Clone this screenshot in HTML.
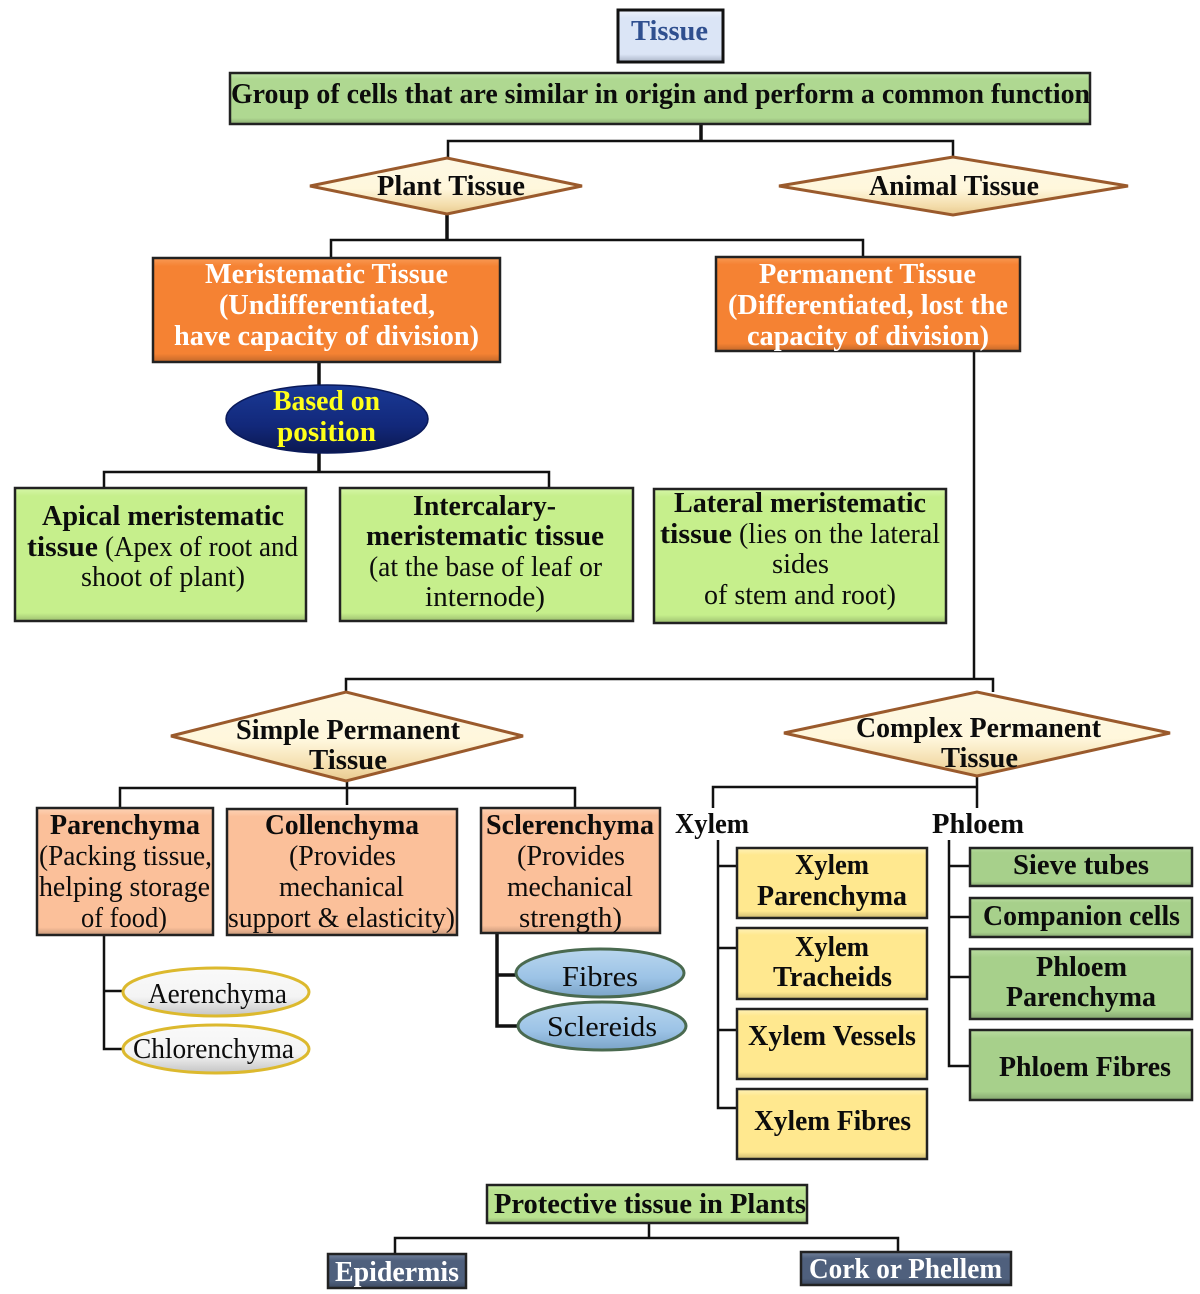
<!DOCTYPE html>
<html><head><meta charset="utf-8"><style>
html,body{margin:0;padding:0;background:#fff}
svg{display:block;filter:blur(.35px)}
text{font-family:"Liberation Serif","DejaVu Serif",serif;font-size:28px;fill:#0c0c0c}
.b{font-weight:bold}
.w{fill:#fff}.y{fill:#ffff1a}
.l{stroke:#111;stroke-width:2.5;fill:none}
.t{stroke:#111;stroke-width:3.5;fill:none}
.r{stroke:#222;stroke-width:2.5}
</style></head><body>
<svg width="1200" height="1294" viewBox="0 0 1200 1294" xmlns="http://www.w3.org/2000/svg" lengthAdjust="spacingAndGlyphs">
<defs>
<linearGradient id="gT" x1="0" y1="0" x2="0" y2="1"><stop offset="0" stop-color="#eef3fb"/><stop offset=".15" stop-color="#dbe5f6"/><stop offset=".85" stop-color="#dbe5f6"/><stop offset="1" stop-color="#aab4c6"/></linearGradient>
<linearGradient id="gG" x1="0" y1="0" x2="0" y2="1"><stop offset="0" stop-color="#c5e6ae"/><stop offset=".12" stop-color="#afd891"/><stop offset=".88" stop-color="#afd891"/><stop offset="1" stop-color="#8bad72"/></linearGradient>
<linearGradient id="gO" x1="0" y1="0" x2="0" y2="1"><stop offset="0" stop-color="#f99a55"/><stop offset=".08" stop-color="#f58233"/><stop offset=".92" stop-color="#f58233"/><stop offset="1" stop-color="#c2682a"/></linearGradient>
<linearGradient id="gL" x1="0" y1="0" x2="0" y2="1"><stop offset="0" stop-color="#d6f6a8"/><stop offset=".06" stop-color="#c6ef8c"/><stop offset=".94" stop-color="#c6ef8c"/><stop offset="1" stop-color="#9ebf70"/></linearGradient>
<linearGradient id="gP" x1="0" y1="0" x2="0" y2="1"><stop offset="0" stop-color="#fdd3b6"/><stop offset=".06" stop-color="#fbc09a"/><stop offset=".94" stop-color="#fbc09a"/><stop offset="1" stop-color="#c8997b"/></linearGradient>
<linearGradient id="gY" x1="0" y1="0" x2="0" y2="1"><stop offset="0" stop-color="#fff2b8"/><stop offset=".1" stop-color="#ffe88f"/><stop offset=".9" stop-color="#ffe88f"/><stop offset="1" stop-color="#ccb972"/></linearGradient>
<linearGradient id="gH" x1="0" y1="0" x2="0" y2="1"><stop offset="0" stop-color="#b9dca0"/><stop offset=".12" stop-color="#a7d08b"/><stop offset=".88" stop-color="#a7d08b"/><stop offset="1" stop-color="#85a66f"/></linearGradient>
<linearGradient id="gV" x1="0" y1="0" x2="0" y2="1"><stop offset="0" stop-color="#cdeeaa"/><stop offset=".15" stop-color="#b9e28f"/><stop offset=".85" stop-color="#b9e28f"/><stop offset="1" stop-color="#93b472"/></linearGradient>
<linearGradient id="gS" x1="0" y1="0" x2="0" y2="1"><stop offset="0" stop-color="#73829b"/><stop offset=".2" stop-color="#4f607d"/><stop offset=".8" stop-color="#4f607d"/><stop offset="1" stop-color="#3b4860"/></linearGradient>
<linearGradient id="gD" x1="0" y1="0" x2="0" y2="1"><stop offset="0" stop-color="#fdf8e4"/><stop offset=".55" stop-color="#fff7dc"/><stop offset=".85" stop-color="#f3dcaa"/><stop offset="1" stop-color="#e8c98e"/></linearGradient>
<linearGradient id="gN" x1="0" y1="0" x2="0" y2="1"><stop offset="0" stop-color="#1a3a96"/><stop offset=".6" stop-color="#12287a"/><stop offset="1" stop-color="#0b1850"/></linearGradient>
<linearGradient id="gE" x1="0" y1="0" x2="0" y2="1"><stop offset="0" stop-color="#fafafa"/><stop offset=".6" stop-color="#f4f4f4"/><stop offset="1" stop-color="#c4c4c4"/></linearGradient>
<linearGradient id="gB" x1="0" y1="0" x2="0" y2="1"><stop offset="0" stop-color="#b9d6ee"/><stop offset=".6" stop-color="#9cc3e6"/><stop offset="1" stop-color="#7ba4c8"/></linearGradient>
</defs>

<!-- connectors -->
<path class="t" d="M701 124V141"/>
<path class="l" d="M448 158V141H953V157"/>
<path class="t" d="M447 214V240"/>
<path class="l" d="M331 258V240H863V257"/>
<path class="t" d="M319 362V385M319 452V472"/>
<path class="l" d="M104 488V472H549V488"/>
<path class="l" d="M974 351V679M346 692V679H993V692"/>
<path class="l" d="M347 781V805M120 808V788H575V808"/>
<path class="l" d="M977 776V808M713 808V787H977"/>
<path class="l" d="M718 840V1108H737M718 866H737M718 948H737M718 1030H737"/>
<path class="l" d="M949 840V1066H970M949 866H970M949 917H970M949 977H970"/>
<path class="l" d="M104 935V1049H122M104 991H122"/>
<path class="t" d="M497 933V1026H520M497 975H517"/>
<path class="l" d="M649 1218V1238M395 1255V1238H898V1256"/>

<!-- boxes -->
<rect x="618" y="10" width="105" height="52" fill="url(#gT)" stroke="#111" stroke-width="3"/>
<rect class="r" x="230" y="73" width="860" height="51" fill="url(#gG)"/>
<rect class="r" x="153" y="258" width="347" height="104" fill="url(#gO)"/>
<rect class="r" x="716" y="257" width="304" height="94" fill="url(#gO)"/>
<rect class="r" x="15" y="488" width="291" height="133" fill="url(#gL)"/>
<rect class="r" x="340" y="488" width="293" height="133" fill="url(#gL)"/>
<rect class="r" x="654" y="489" width="292" height="134" fill="url(#gL)"/>
<rect class="r" x="37" y="808" width="176" height="127" fill="url(#gP)"/>
<rect class="r" x="227" y="809" width="230" height="126" fill="url(#gP)"/>
<rect class="r" x="481" y="808" width="179" height="125" fill="url(#gP)"/>
<rect class="r" x="737" y="848" width="190" height="70" fill="url(#gY)"/>
<rect class="r" x="737" y="928" width="190" height="71" fill="url(#gY)"/>
<rect class="r" x="737" y="1009" width="190" height="70" fill="url(#gY)"/>
<rect class="r" x="737" y="1089" width="190" height="70" fill="url(#gY)"/>
<rect class="r" x="970" y="848" width="222" height="38" fill="url(#gH)"/>
<rect class="r" x="970" y="898" width="222" height="39" fill="url(#gH)"/>
<rect class="r" x="970" y="949" width="222" height="70" fill="url(#gH)"/>
<rect class="r" x="970" y="1030" width="222" height="70" fill="url(#gH)"/>
<rect class="r" x="487" y="1185" width="320" height="38" fill="url(#gV)"/>
<rect class="r" x="328" y="1254" width="138" height="34" fill="url(#gS)"/>
<rect class="r" x="801" y="1252" width="210" height="33" fill="url(#gS)"/>

<!-- diamonds -->
<g stroke="#9a5a2c" stroke-width="3" fill="url(#gD)">
<polygon points="310,186 447,158 582,186 447,214"/>
<polygon points="779,186 953,157 1128,186 953,215"/>
<polygon points="171,736 346,692 523,736 346,781"/>
<polygon points="784,733 977,692 1170,733 977,776"/>
</g>

<!-- ellipses -->
<ellipse cx="327" cy="419" rx="101" ry="34" fill="url(#gN)" stroke="#0a1a5a" stroke-width="1.5"/>
<g fill="url(#gE)" stroke="#dcb92e" stroke-width="3">
<ellipse cx="216" cy="992" rx="93" ry="24"/>
<ellipse cx="216" cy="1049" rx="93" ry="24"/>
</g>
<g fill="url(#gB)" stroke="#4a6a50" stroke-width="3">
<ellipse cx="600" cy="973" rx="84" ry="24"/>
<ellipse cx="602" cy="1026" rx="84" ry="24"/>
</g>

<!-- text -->
<g class="b">
<text x="631" y="40" textLength="77" lengthAdjust="spacingAndGlyphs" style="fill:#2f4f8f">Tissue</text>
<text x="231" y="103" textLength="859" lengthAdjust="spacingAndGlyphs">Group of cells that are similar in origin and perform a common function</text>
<text x="377" y="195" textLength="148" lengthAdjust="spacingAndGlyphs">Plant Tissue</text>
<text x="869" y="195" textLength="170" lengthAdjust="spacingAndGlyphs">Animal Tissue</text>
<text class="w" x="205" y="283" textLength="243" lengthAdjust="spacingAndGlyphs">Meristematic Tissue</text>
<text class="w" x="219" y="314" textLength="216" lengthAdjust="spacingAndGlyphs">(Undifferentiated,</text>
<text class="w" x="174" y="345" textLength="305" lengthAdjust="spacingAndGlyphs">have capacity of division)</text>
<text class="w" x="759" y="283" textLength="217" lengthAdjust="spacingAndGlyphs">Permanent Tissue</text>
<text class="w" x="728" y="314" textLength="280" lengthAdjust="spacingAndGlyphs">(Differentiated, lost the</text>
<text class="w" x="747" y="345" textLength="242" lengthAdjust="spacingAndGlyphs">capacity of division)</text>
<text class="y" x="273" y="410" textLength="107" lengthAdjust="spacingAndGlyphs">Based on</text>
<text class="y" x="277" y="441" textLength="99" lengthAdjust="spacingAndGlyphs">position</text>
<text x="42" y="525" textLength="242" lengthAdjust="spacingAndGlyphs">Apical meristematic</text>
<text x="27" y="556" textLength="71" lengthAdjust="spacingAndGlyphs">tissue</text>
<text x="413" y="515" textLength="143" lengthAdjust="spacingAndGlyphs">Intercalary-</text>
<text x="366" y="545" textLength="238" lengthAdjust="spacingAndGlyphs">meristematic tissue</text>
<text x="674" y="512" textLength="252" lengthAdjust="spacingAndGlyphs">Lateral meristematic</text>
<text x="660" y="543" textLength="72" lengthAdjust="spacingAndGlyphs">tissue</text>
<text x="236" y="739" textLength="224" lengthAdjust="spacingAndGlyphs">Simple Permanent</text>
<text x="309" y="769" textLength="78" lengthAdjust="spacingAndGlyphs">Tissue</text>
<text x="856" y="737" textLength="245" lengthAdjust="spacingAndGlyphs">Complex Permanent</text>
<text x="941" y="767" textLength="77" lengthAdjust="spacingAndGlyphs">Tissue</text>
<text x="50" y="834" textLength="150" lengthAdjust="spacingAndGlyphs">Parenchyma</text>
<text x="265" y="834" textLength="154" lengthAdjust="spacingAndGlyphs">Collenchyma</text>
<text x="486" y="834" textLength="168" lengthAdjust="spacingAndGlyphs">Sclerenchyma</text>
<text x="675" y="833" textLength="74" lengthAdjust="spacingAndGlyphs">Xylem</text>
<text x="932" y="833" textLength="92" lengthAdjust="spacingAndGlyphs">Phloem</text>
<text x="795" y="874" textLength="74" lengthAdjust="spacingAndGlyphs">Xylem</text>
<text x="757" y="905" textLength="150" lengthAdjust="spacingAndGlyphs">Parenchyma</text>
<text x="795" y="956" textLength="74" lengthAdjust="spacingAndGlyphs">Xylem</text>
<text x="773" y="986" textLength="119" lengthAdjust="spacingAndGlyphs">Tracheids</text>
<text x="748" y="1045" textLength="168" lengthAdjust="spacingAndGlyphs">Xylem Vessels</text>
<text x="754" y="1130" textLength="157" lengthAdjust="spacingAndGlyphs">Xylem Fibres</text>
<text x="1013" y="874" textLength="136" lengthAdjust="spacingAndGlyphs">Sieve tubes</text>
<text x="983" y="925" textLength="197" lengthAdjust="spacingAndGlyphs">Companion cells</text>
<text x="1036" y="976" textLength="91" lengthAdjust="spacingAndGlyphs">Phloem</text>
<text x="1006" y="1006" textLength="150" lengthAdjust="spacingAndGlyphs">Parenchyma</text>
<text x="999" y="1076" textLength="172" lengthAdjust="spacingAndGlyphs">Phloem Fibres</text>
<text x="494" y="1213" textLength="312" lengthAdjust="spacingAndGlyphs">Protective tissue in Plants</text>
<text class="w" x="335" y="1281" textLength="124" lengthAdjust="spacingAndGlyphs">Epidermis</text>
<text class="w" x="809" y="1278" textLength="193" lengthAdjust="spacingAndGlyphs">Cork or Phellem</text>
</g>
<g>
<text x="105" y="556" textLength="193" lengthAdjust="spacingAndGlyphs">(Apex of root and</text>
<text x="81" y="586" textLength="164" lengthAdjust="spacingAndGlyphs">shoot of plant)</text>
<text x="369" y="576" textLength="233" lengthAdjust="spacingAndGlyphs">(at the base of leaf or</text>
<text x="425" y="606" textLength="120" lengthAdjust="spacingAndGlyphs">internode)</text>
<text x="739" y="543" textLength="201" lengthAdjust="spacingAndGlyphs">(lies on the lateral</text>
<text x="772" y="573" textLength="57" lengthAdjust="spacingAndGlyphs">sides</text>
<text x="704" y="604" textLength="192" lengthAdjust="spacingAndGlyphs">of stem and root)</text>
<text x="39" y="865" textLength="173" lengthAdjust="spacingAndGlyphs">(Packing tissue,</text>
<text x="39" y="896" textLength="171" lengthAdjust="spacingAndGlyphs">helping storage</text>
<text x="81" y="927" textLength="86" lengthAdjust="spacingAndGlyphs">of food)</text>
<text x="289" y="865" textLength="107" lengthAdjust="spacingAndGlyphs">(Provides</text>
<text x="279" y="896" textLength="125" lengthAdjust="spacingAndGlyphs">mechanical</text>
<text x="228" y="927" textLength="227" lengthAdjust="spacingAndGlyphs">support &amp; elasticity)</text>
<text x="517" y="865" textLength="108" lengthAdjust="spacingAndGlyphs">(Provides</text>
<text x="507" y="896" textLength="126" lengthAdjust="spacingAndGlyphs">mechanical</text>
<text x="519" y="927" textLength="103" lengthAdjust="spacingAndGlyphs">strength)</text>
<text x="148" y="1003" textLength="139" lengthAdjust="spacingAndGlyphs">Aerenchyma</text>
<text x="133" y="1058" textLength="161" lengthAdjust="spacingAndGlyphs">Chlorenchyma</text>
<text x="562" y="986" textLength="76" lengthAdjust="spacingAndGlyphs">Fibres</text>
<text x="547" y="1036" textLength="110" lengthAdjust="spacingAndGlyphs">Sclereids</text>
</g>
</svg>
</body></html>
